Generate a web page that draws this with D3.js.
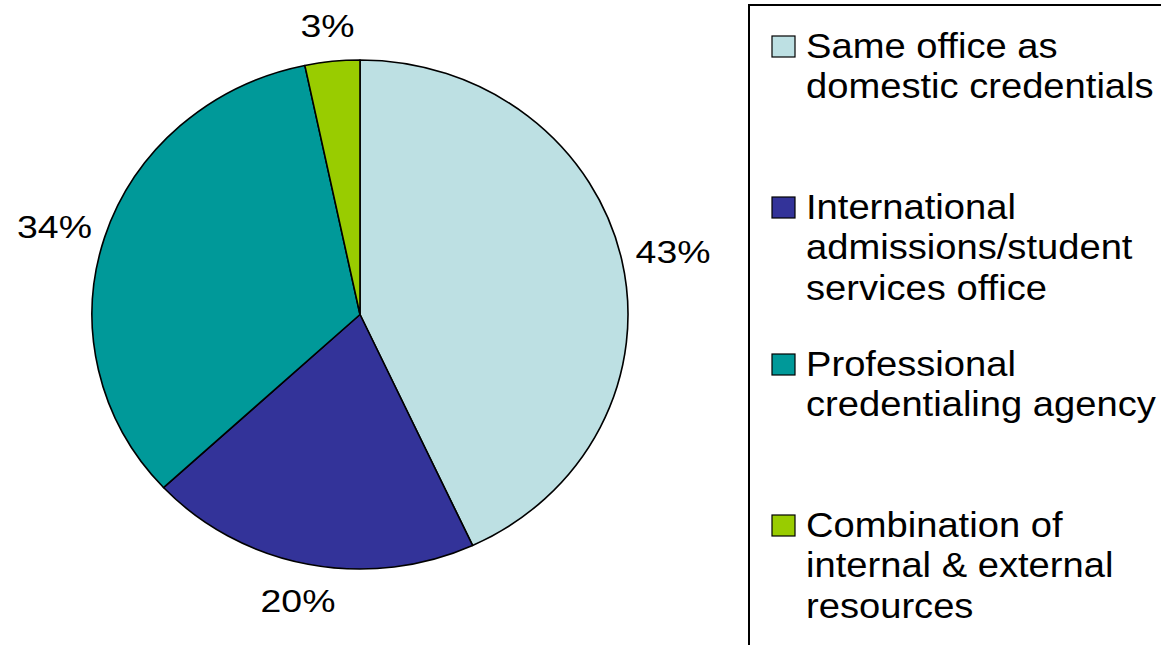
<!DOCTYPE html>
<html>
<head>
<meta charset="utf-8">
<script src="https://cdn.jsdelivr.net/npm/d3@7"></script>
<style>
  body { margin: 0; background: #fff; }
  svg text { font-family: "Liberation Sans", Arial, sans-serif; fill: #000; }
</style>
</head>
<body>
<svg></svg>
<script>
var width = 1161,
    height = 645;
var svg = d3.select("svg")
    .attr("width", width)
    .attr("height", height);

// data
var categories = [
    "Same office as domestic credentials",
    "International admissions/student services office",
    "Professional credentialing agency",
    "Combination of internal & external resources"
];
var legendLines = [
    ["Same office as", "domestic credentials"],
    ["International", "admissions/student", "services office"],
    ["Professional", "credentialing agency"],
    ["Combination of", "internal & external", "resources"]
];
var values = [43.1, 20.0, 33.6, 3.3];
var labels = ["43%", "20%", "34%", "3%"];
var colors = ["#bde0e3", "#333399", "#009999", "#99cc00"];

// pie geometry (the original is a bit wider than tall)
var cx = 360, cy = 314.5,
    r = 254.5,
    sx = 268 / 254.5;

var pie = d3.pie().sort(null).value(d => d);
var arcs = pie(values);
var arc = d3.arc().innerRadius(0).outerRadius(r);

var g = svg.append("g").attr("transform", "translate(" + cx + "," + cy + ")");

g.append("g")
    .attr("transform", "scale(" + sx + ",1)")
    .selectAll("path")
    .data(arcs)
    .enter()
    .append("path")
    .attr("d", arc)
    .attr("fill", (d, i) => colors[i])
    .attr("stroke", "#000")
    .attr("stroke-width", 1.6)
    .attr("stroke-linejoin", "round")
    .attr("vector-effect", "non-scaling-stroke");

// outside labels: box pushed out from the rim along the mid angle
var labelFont = 32, labelStretch = 1.17, gap = 25;
var lbl = g.selectAll("text.lbl")
    .data(arcs)
    .enter()
    .append("text")
    .attr("class", "lbl")
    .attr("text-anchor", "middle")
    .attr("dominant-baseline", "central")
    .style("font-size", labelFont + "px")
    .text((d, i) => labels[i]);

lbl.attr("transform", function(d) {
    var a = (d.startAngle + d.endAngle) / 2,
        s = Math.sin(a), c = Math.cos(a),
        halfW = this.getComputedTextLength() * labelStretch / 2,
        halfH = labelFont * 0.36;
    var x = (r + gap) * s * sx + s * halfW * 0.7,
        y = -(r + gap) * c - c * halfH;
    return "translate(" + x + "," + y + ") scale(" + labelStretch + ",1)";
});

// legend
var legend = svg.append("g");
legend.append("rect")
    .attr("x", 749)
    .attr("y", 5)
    .attr("width", 500)
    .attr("height", 700)
    .attr("fill", "#fff")
    .attr("stroke", "#000")
    .attr("stroke-width", 2);

var entryY = [58, 219, 376, 537]; // first baseline of each entry
var lineH = 40.5;
var item = legend.selectAll("g.item")
    .data(categories)
    .enter()
    .append("g")
    .attr("class", "item")
    .attr("transform", (d, i) => "translate(0," + entryY[i] + ")");

item.append("rect")
    .attr("x", 772)
    .attr("y", -22)
    .attr("width", 23)
    .attr("height", 21)
    .attr("fill", (d, i) => colors[i])
    .attr("stroke", "#000")
    .attr("stroke-width", 1.2);

item.append("text")
    .attr("transform", "translate(806,0) scale(1.09,1)")
    .style("font-size", "35px")
    .selectAll("tspan")
    .data((d, i) => legendLines[i])
    .enter()
    .append("tspan")
    .attr("x", 0)
    .attr("y", (d, j) => j * lineH)
    .text(d => d);
</script>
</body>
</html>
